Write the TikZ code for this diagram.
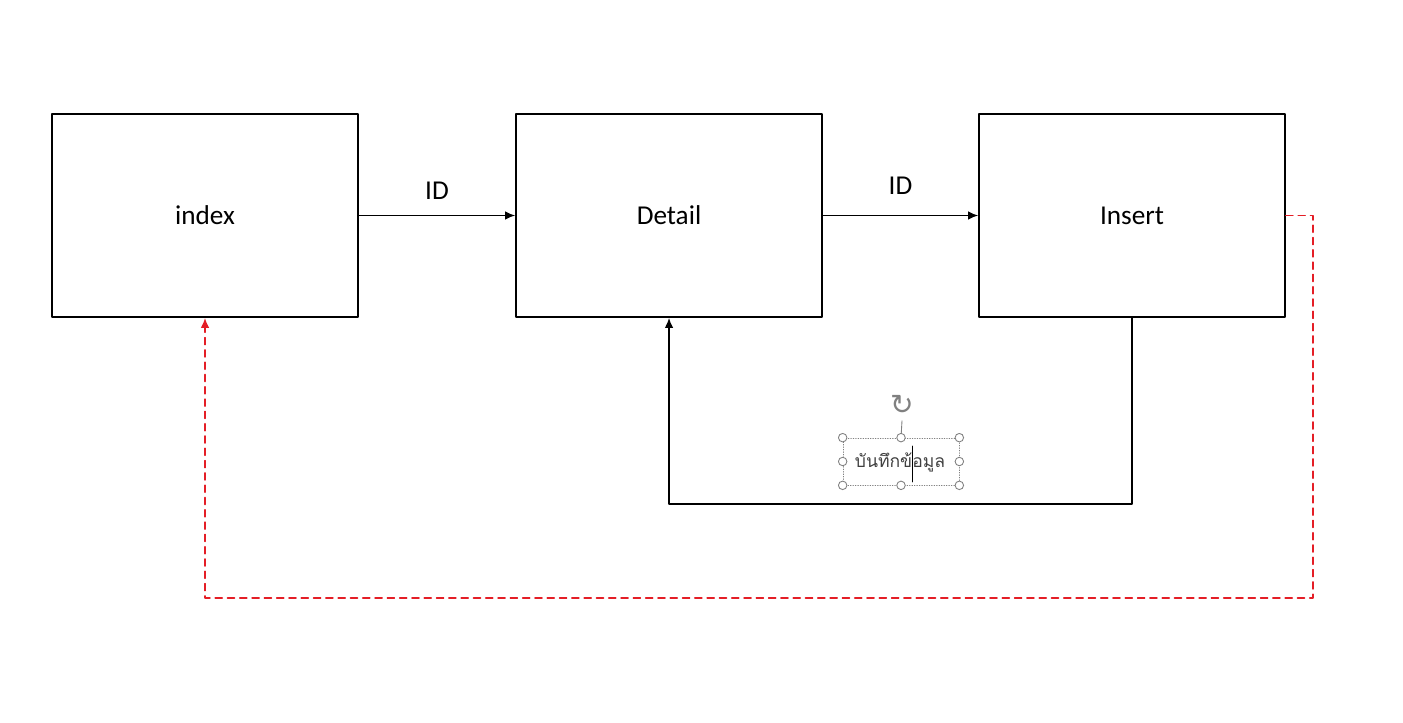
\documentclass[tikz,border=0pt]{standalone}
\usepackage{fontspec}
\setmainfont{Carlito}
\newfontfamily\thaifont[Script=Thai]{Loma}
\newfontfamily\symfont{DejaVu Sans}
\usetikzlibrary{arrows.meta}
\definecolor{linkred}{RGB}{228,30,38}
\definecolor{notegray}{RGB}{64,64,64}
\begin{document}
\begin{tikzpicture}[x=0.02cm, y=-0.02cm, font=\fontsize{15.5}{18}\selectfont, line cap=round, line join = round, >={Latex[length=2mm,width=1.7mm]},
  page/.style={draw, line width=1pt, minimum width=6.12cm, minimum height=4.06cm, inner sep=0},
  handle/.style={circle, draw=gray, fill=white, line width=0.5pt, inner sep=0, minimum size=0.17cm}]
\useasboundingbox (0,0) rectangle (1403,723);
\node[page] (index) at (205,215.5) {index};
\node[page] (detail) at (669,215.5) {Detail};
\node[page] (insert) at (1132,215.5) {Insert};
\coordinate (back) at (1132,504);
\coordinate (loop) at (1313,598);

\draw[->, line width=0.9pt] (index)--(detail) node[midway, above=0.18cm]{ID};
\draw[->, line width=0.9pt] (detail)--(insert) node[midway, above=0.28cm]{ID};
\draw[->, line width=0.9pt] (insert.south)--(back)-|(detail.south);
\draw[->, linkred, line width=0.9pt, dash pattern=on 4pt off 3pt] (insert.east)-|(loop)-|(index.south);

% text box as selected
\node[draw=gray, densely dotted, line width=0.4pt, minimum width=2.32cm, minimum height=0.94cm, inner sep=0] (note) at (901,461.5) {};
\node[text=notegray] (notetext) at (900,462) {\thaifont\fontsize{10}{12}\selectfont บันทึกข้อมูล};
\draw[line width=0.4pt] (912,446)--(912,482);
\node[text=gray, font=\symfont\fontsize{16}{16}\selectfont] (rot) at (902,405) {↻};
\draw[gray, line width=0.5pt] (note.north)--(rot.south);
\foreach \a in {north, south, east, west, north east, north west, south east, south west}
\node[handle] at (note.\a) {};
\end{tikzpicture}
\end{document}
